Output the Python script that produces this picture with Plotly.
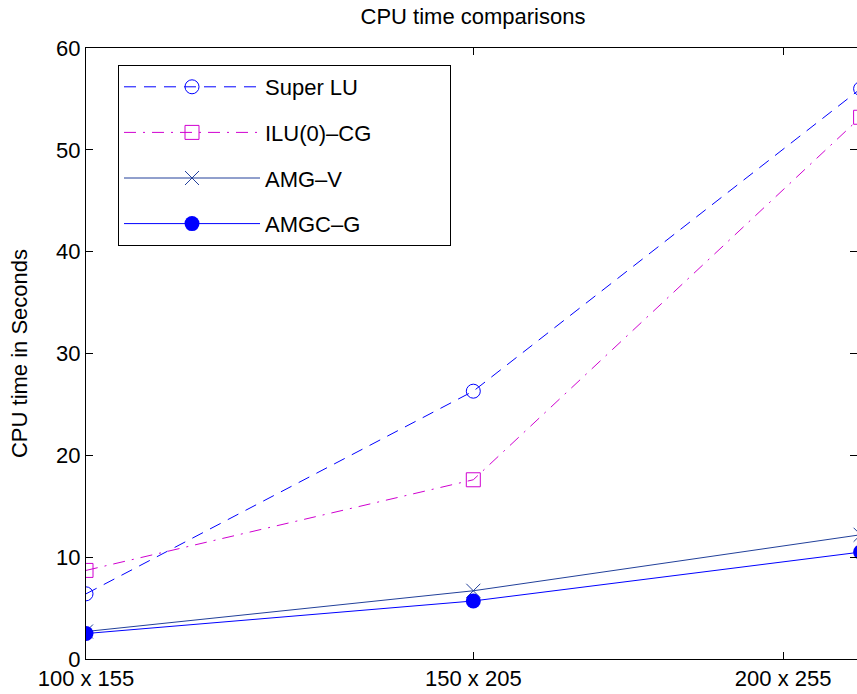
import plotly.graph_objects as go

# Data
x_pos = [1, 2, 3]
tick_vals = [1, 2, 2.8]
tick_labels = ["100 x 155", "150 x 205", "200 x 255"]
series_names = ["Super LU", "ILU(0)\u2013CG", "AMG\u2013V", "AMGC\u2013G"]
super_lu = [6.4, 26.3, 56.0]
ilu0_cg = [8.7, 17.6, 53.2]
amg_v = [2.7, 6.7, 12.2]
amgc_g = [2.5, 5.7, 10.5]

FONT = "Liberation Sans, Arial, Helvetica, sans-serif"
PAD = "\u00a0" * 12  # widens the legend box to match the reference

fig = go.Figure()
fig.add_trace(go.Scatter(
    x=x_pos, y=super_lu, name=series_names[0], mode="lines+markers",
    line=dict(color="#0000ff", width=1, dash="12px,8px"),
    marker=dict(symbol="circle-open", size=14, color="#0000ff", line=dict(width=1, color="#0000ff")),
    legendgroup="a"))
fig.add_trace(go.Scatter(
    x=x_pos, y=ilu0_cg, name=series_names[1] + PAD, mode="lines+markers",
    line=dict(color="#d000d0", width=1, dash="12px,7px,2px,7px"),
    marker=dict(symbol="square-open", size=14, color="#d000d0", line=dict(width=1, color="#d000d0")),
    legendgroup="b"))
fig.add_trace(go.Scatter(
    x=x_pos, y=amg_v, name=series_names[2], mode="lines+markers",
    line=dict(color="#22409a", width=1),
    marker=dict(symbol="x-thin", size=14, color="#22409a", line=dict(width=1, color="#22409a")),
    legendgroup="c"))
fig.add_trace(go.Scatter(
    x=x_pos, y=amgc_g, name=series_names[3], mode="lines+markers",
    line=dict(color="#0000ff", width=1),
    marker=dict(symbol="circle", size=15, color="#0000ff"),
    legendgroup="d"))

axis_common = dict(
    showgrid=False, zeroline=False, showline=True, linecolor="black", linewidth=1,
    ticks="inside", ticklen=7, tickcolor="black", tickwidth=1, mirror="ticks",
    tickfont=dict(family=FONT, size=22, color="black"),
)

fig.update_layout(
    width=857, height=694,
    paper_bgcolor="white", plot_bgcolor="white",
    margin=dict(l=86, r=0, t=48, b=35),
    font=dict(family=FONT, size=22, color="black"),
    title=dict(text="CPU time comparisons", xref="container", yref="container",
               x=473 / 857, y=1 - 16 / 694, xanchor="center", yanchor="middle",
               font=dict(family=FONT, size=22, color="black")),
    xaxis=dict(range=[1, 1 + 771 / 387.3], tickvals=tick_vals, ticktext=tick_labels, **axis_common),
    yaxis=dict(range=[0, 60], tickvals=[0, 10, 20, 30, 40, 50, 60],
               title=dict(text="CPU time in Seconds", font=dict(family=FONT, size=22, color="black"), standoff=22),
               **axis_common),
    legend=dict(x=(118 - 86) / 771, y=(659 - 65) / 611, xanchor="left", yanchor="top",
                bgcolor="white", bordercolor="black", borderwidth=1,
                font=dict(family=FONT, size=22, color="black"),
                traceorder="grouped", tracegroupgap=14, itemwidth=136),
    showlegend=True,
)

fig.write_html("out.html", config={"displayModeBar": False},
               post_script="document.body.style.margin='0';document.body.style.overflow='hidden';")
